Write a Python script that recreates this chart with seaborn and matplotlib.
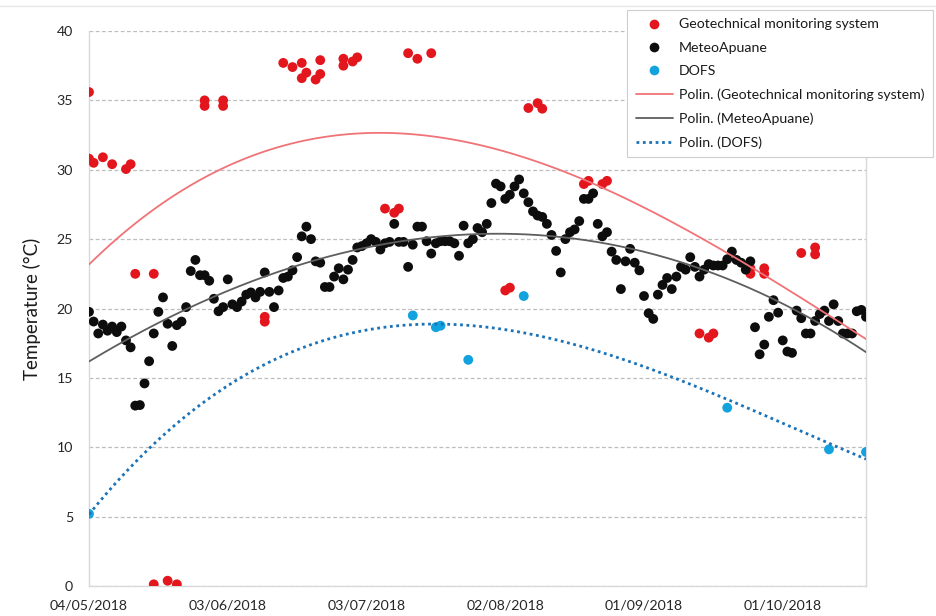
import numpy as np
import pandas as pd
import matplotlib
matplotlib.use("Agg")
import matplotlib.pyplot as plt
from matplotlib.lines import Line2D
import seaborn as sns

# ---- data: day offsets from the first measurement (04/05/2018) and temperatures (°C)
START = pd.Timestamp("2018-05-04")
END = pd.Timestamp("2018-10-19")

geo_day = [0, 0, 1, 3, 5, 8, 9, 10, 14, 14, 17, 19, 25, 25, 29, 29, 38, 38,
           42, 44, 46, 46, 47, 49, 50, 50, 55, 55, 57, 58, 64, 66, 67, 69, 71, 74,
           90, 91, 95, 97, 98, 107, 108, 111, 112, 132, 134, 135,
           143, 143, 146, 146, 154, 157, 157]
geo_temp = [35.6, 30.8, 30.5, 30.9, 30.4, 30.05, 30.4, 22.5, 22.5, 0.12, 0.38, 0.12,
            35.0, 34.6, 35.0, 34.6, 19.4, 19.05,
            37.7, 37.4, 37.7, 36.6, 37.0, 36.5, 37.9, 36.9, 38.0, 37.5, 37.8, 38.1,
            27.2, 26.9, 27.2, 38.4, 38.0, 38.4,
            21.3, 21.5, 34.45, 34.8, 34.4, 28.97, 29.2, 28.97, 29.2, 18.2, 17.9, 18.2,
            22.9, 22.5, 22.9, 22.5, 24.0, 24.4, 23.9]

meteo_day = list(range(0, 169))
meteo_temp = [
    19.76, 19.06, 18.2, 18.84, 18.4, 18.7, 18.3, 18.7, 17.7, 17.2,
    13.0, 13.04, 14.6, 16.2, 18.2, 19.76, 20.8, 18.9, 17.3, 18.8,
    19.06, 20.1, 22.7, 23.5, 22.4, 22.4, 22.0, 20.7, 19.8, 20.1,
    22.1, 20.3, 20.1, 20.5, 21.0, 21.16, 20.8, 21.2, 22.6, 21.2,
    20.1, 21.3, 22.2, 22.3, 22.75, 23.7, 25.2, 25.9, 25.0, 23.4,
    23.3, 21.55, 21.55, 22.3, 22.9, 22.1, 22.8, 23.5, 24.4, 24.5,
    24.7, 25.0, 24.8, 24.25, 24.7, 24.8, 26.1, 24.8, 24.8, 23.0,
    24.6, 25.9, 25.9, 24.85, 23.96, 24.7, 24.85, 24.85, 24.85, 24.7,
    23.8, 25.97, 24.7, 25.0, 25.8, 25.5, 26.1, 27.6, 29.0, 28.8,
    27.9, 28.2, 28.8, 29.3, 28.3, 27.66, 27.0, 26.7, 26.6, 26.1,
    25.3, 24.15, 22.6, 25.0, 25.5, 25.7, 26.3, 27.9, 27.9, 28.3,
    26.1, 25.2, 25.5, 24.1, 23.5, 21.4, 23.4, 24.3, 23.3, 22.75,
    20.9, 19.66, 19.25, 21.0, 21.7, 22.2, 21.4, 22.3, 23.0, 22.8,
    23.7, 23.0, 22.3, 22.8, 23.2, 23.1, 23.1, 23.1, 23.55, 24.1,
    23.5, 23.3, 22.8, 23.4, 18.65, 16.7, 17.4, 19.4, 20.6, 19.7,
    17.7, 16.9, 16.8, 19.85, 19.3, 18.2, 18.2, 19.1, 19.6, 19.85,
    19.1, 20.3, 19.1, 18.2, 18.2, 18.2, 19.8, 19.9, 19.4,
]

dofs_day = [0, 70, 75, 76, 82, 94, 138, 160, 168]
dofs_temp = [5.2, 19.5, 18.65, 18.76, 16.3, 20.9, 12.85, 9.85, 9.66]

tick_labels = ["04/05/2018", "03/06/2018", "03/07/2018",
               "02/08/2018", "01/09/2018", "01/10/2018"]
tick_days = [0, 30, 60, 90, 120, 150]
y_ticks = [0, 5, 10, 15, 20, 25, 30, 35, 40]

# name, days, temps, point colour, trend colour, trend style, trend width
series = [
    ("Geotechnical monitoring system", geo_day, geo_temp, "#E3161D", "#F07378", "-", 1.3),
    ("MeteoApuane", meteo_day, meteo_temp, "#0D0D0D", "#5E5E5E", "-", 1.3),
    ("DOFS", dofs_day, dofs_temp, "#12A2DD", "#1A72B8", (0, (1, 1.3)), 2.0),
]

sns.set_theme(style="white")
plt.rcParams["font.family"] = ["Lato", "DejaVu Sans"]

fig = plt.figure(figsize=(9.36, 6.16), dpi=100)
ax = fig.add_axes([89 / 936, 1 - 586 / 616, (866 - 89) / 936, (586 - 31) / 616])


def to_dates(days):
    return START + pd.to_timedelta(np.asarray(days, dtype=float), unit="D")


# measured temperatures
point_handles = []
for name, d, t, pc, lc, ls, lw in series:
    df = pd.DataFrame({"date": to_dates(d), "temp": t})
    sns.scatterplot(data=df, x="date", y="temp", color=pc, s=50,
                    edgecolor="none", ax=ax, zorder=3)
    point_handles.append(Line2D([], [], marker="o", linestyle="none",
                                markerfacecolor=pc, markeredgecolor="none",
                                markersize=7, label=name))

# third-order polynomial trend lines
line_handles = []
grid_days = np.linspace(0, 168, 400)
for name, d, t, pc, lc, ls, lw in series:
    coef = np.polyfit(np.asarray(d, float), np.asarray(t, float), 3)
    fit = np.polyval(coef, grid_days)
    fdf = pd.DataFrame({"date": to_dates(grid_days), "temp": fit})
    sns.lineplot(data=fdf, x="date", y="temp", color=lc, linestyle=ls,
                 linewidth=lw, ax=ax, zorder=4)
    line_handles.append(Line2D([], [], color=lc, linestyle=ls, linewidth=lw,
                               label=f"Polin. ({name})"))

# axes styling
ax.set_xlim(START, END)
ax.set_ylim(0, 40)
ax.set_yticks(y_ticks)
ax.set_xticks(to_dates(tick_days))
ax.set_xticklabels(tick_labels)
ax.set_xlabel("")
ax.set_ylabel("Temperature (°C)", fontsize=13.5, color="#1a1a1a", labelpad=11)
ax.tick_params(axis="both", length=0, labelsize=10.2, colors="#262626")
ax.tick_params(axis="x", pad=9.5)
ax.tick_params(axis="y", pad=11.5)
ax.yaxis.grid(True, color="#bdbdbd", linestyle=(0, (3, 2)), linewidth=0.9)
ax.xaxis.grid(False)
for side in ["left", "bottom", "right"]:
    ax.spines[side].set_color("#d9d9d9")
    ax.spines[side].set_linewidth(1.0)
ax.spines["top"].set_visible(False)
if ax.get_legend() is not None:
    ax.get_legend().remove()

# thin frame line along the top of the chart area
fig.add_artist(Line2D([0, 1], [1 - 6 / 616, 1 - 6 / 616], color="#e6e6e6",
                      linewidth=1.0, transform=fig.transFigure))

leg = fig.legend(handles=point_handles + line_handles,
                 loc="upper right", bbox_to_anchor=(933 / 936, 1 - 10 / 616),
                 fontsize=10.2, frameon=True, fancybox=False, edgecolor="#cfcfcf",
                 framealpha=1.0, borderaxespad=0, handlelength=2.6,
                 handletextpad=0.45, labelspacing=0.8, borderpad=0.6)
leg.get_frame().set_linewidth(0.8)
for txt in leg.get_texts():
    txt.set_color("#1a1a1a")

fig.savefig("out.png", dpi=100)
